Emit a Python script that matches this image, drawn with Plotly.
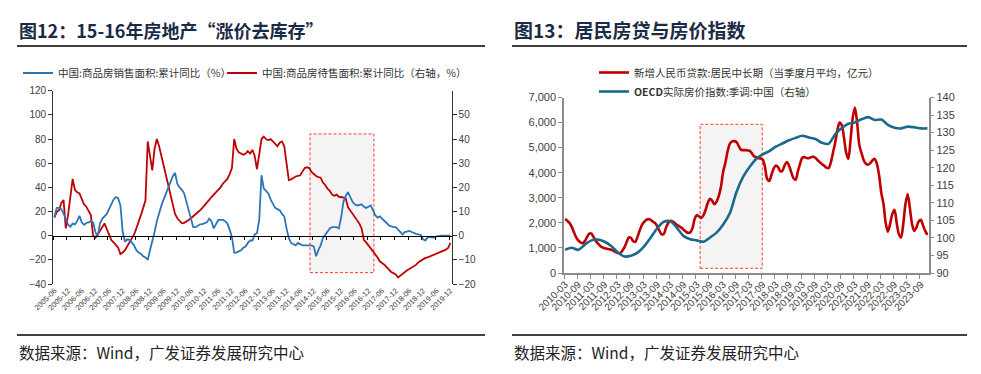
import pandas as pd
import plotly.graph_objects as go

# ---------------- data: left chart (monthly, 2005-06 .. 2019-12) ----------------
months_left = pd.date_range("2005-06-01", "2019-12-01", freq="MS").strftime("%Y-%m").tolist()

sales_area_yoy = [
    15.7, 23, 23, 22, 18.5, 13, 9,                                   # 2005 Jun-Dec
    7.5, 10, 9.4, 12, 16.5, 11, 9, 10.5, 11, 12, 11, 3,              # 2006
    -1, 10, 14, 16.5, 18, 22, 26, 30, 32, 31, 25, 3,                 # 2007
    -5, -3, -3.5, -6, -8, -12, -14, -15, -17, -18, -20, -12,         # 2008
    -5, 3, 12, 19, 25, 30, 35, 39, 45, 49, 52, 43,                   # 2009
    40, 38, 35, 28, 19, 12, 7, 7, 8, 9.4, 9.5, 10,                   # 2010
    11, 14, 12, 6, 10, 13, 13, 13, 12, 10, 5, -1,                    # 2011
    -14, -14, -13, -12, -10, -9, -6, -4, -4, 1, 2, 13,               # 2012
    50, 39, 37, 35, 30, 26, 23, 22, 21, 18, 16, 6,                   # 2013
    -2, -6, -7, -8, -6, -7, -8, -8, -8, -8, -8, -9,                  # 2014
    -17, -12, -8, -2, 1, 4, 6, 7, 7, 7, 6, 15,                       # 2015
    28, 33, 36, 32, 28, 26, 25, 25.5, 26, 24, 23, 24,                # 2016
    25, 21, 17, 15, 16, 14, 12.5, 10.5, 8.5, 7.5, 7, 7,              # 2017
    5, 3, 1, 3, 3.5, 4, 3, 2, 1.5, 1, 0.5, -3,                       # 2018
    -4, -1.5, -1, -1.5, -1.5, -0.5, 0, 0, 0, 0, 0, 0,                # 2019
]

inventory_area_yoy = [
    7.5, 9.9, 10.5, 13.5, 14.8, 3, 8.6,                              # 2005 Jun-Dec
    16, 23.5, 19, 18, 17.5, 15, 13, 12, 10.5, 8.5, 0, -0.8,          # 2006
    0.5, 1.8, 3.5, 5.1, 3, 0.5, -1.8, -2.8, -4, -5, -7.6, -7,        # 2007
    -6, -4.5, -3, -1.5, 0.5, 3, 5.5, 8.5, 11.5, 14.5, 39, 32,        # 2008
    27, 36, 40, 37, 33, 29, 24.5, 21, 16.5, 12.5, 9, 7.2,            # 2009
    6, 5.1, 5.3, 5.8, 6.5, 7.2, 8, 8.6, 9.5, 10.5, 11.5, 12.5,       # 2010
    13.5, 14.8, 16, 17, 18, 19, 20, 21.5, 22.5, 23.5, 25.5, 28,      # 2011
    40, 36, 34.5, 34, 33.5, 34, 35, 34, 35.5, 33, 27.5, 33.5,        # 2012
    40, 41, 40, 39.5, 40, 39, 38, 37, 38.5, 39, 37, 31,              # 2013
    23, 23.3, 24, 24.5, 24.7, 25, 26.5, 28, 28.3, 28, 26.4, 25.5,    # 2014
    24.7, 24.2, 24, 22, 21, 19.5, 18.6, 17, 16.5, 17, 16.1, 16,      # 2015
    15.8, 15.5, 11.8, 10.5, 9.1, 7.5, 6.4, 5, 3, -1.8, -2.8, -4,     # 2016
    -5.6, -6.5, -7.9, -9, -10.6, -11.2, -12, -13, -14, -15, -15.5, -16,   # 2017
    -17.3, -16.5, -15.6, -14.8, -14.3, -13.8, -13.2, -12.5, -12, -11, -10.3, -9.8,  # 2018
    -9.2, -9, -8.6, -8.3, -8, -7.5, -7, -6.6, -6.2, -5.8, -5.1, -3,  # 2019
]

# ---------------- data: right chart (monthly, 2010-03 .. 2023-12) ----------------
months_right = pd.date_range("2010-03-01", "2023-12-01", freq="MS").strftime("%Y-%m").tolist()

household_mlt_loans = [
    2150, 2080, 2000, 1850, 1630, 1430, 1300, 1220, 1190, 1270,
    1440, 1570, 1570, 1430, 1280, 1170, 1080, 1020, 990, 970,
    950, 930, 890, 830, 800, 790, 880, 1020, 1230, 1420,
    1400, 1270, 1240, 1450, 1700, 1920, 2040, 2120, 2150, 2120,
    2050, 1990, 1850, 1680, 1540, 1560, 1820, 2000, 2080, 2060,
    1990, 1920, 1860, 1810, 1720, 1650, 1600, 1620, 1780, 2150,
    2300, 2260, 2200, 2300, 2520, 2800, 2960, 2880, 2740, 2850,
    3080, 3450, 4050, 4400, 4850, 5150, 5250, 5260, 5230, 5080,
    4920, 4900, 4900, 4890, 4880, 4780, 4660, 4620, 4590, 4570,
    4520, 4250, 3750, 3670, 3920, 4170, 4290, 4220, 4060, 4080,
    4300, 4430, 4280, 4020, 3780, 3720, 4050, 4350, 4600, 4620,
    4590, 4580, 4620, 4640, 4600, 4500, 4420, 4340, 4280, 4200,
    4180, 4400, 4800, 5200, 5700, 6000, 5900, 5400, 4800, 4550,
    5300, 6200, 6600, 6000, 5100, 4780, 4500, 4360, 4320, 4380,
    4500, 4550, 4350, 3900, 3200, 2750, 2000, 1650, 1950, 2350,
    2520, 2000, 1550, 1420, 1950, 2750, 3150, 2600, 1950, 1680,
    1820, 2050, 2120, 1900, 1680, 1520,
]

oecd_quarters = months_right[::3]
oecd_real_house_price = [
    96.6, 97.2, 96.6, 98.1, 99.3, 99.5, 98.9, 97.7, 95.9, 94.7,
    94.9, 95.8, 97.6, 100.1, 102.8, 104.6, 104.7, 102.8, 100.5, 99.6,
    99.3, 98.9, 100.1, 101.5, 103.8, 107.0, 113.0, 117.3, 120.2, 122.5,
    123.8, 124.7, 126.0, 126.9, 127.8, 128.5, 129.1, 128.6, 128.2, 127.1,
    126.8, 129.5, 131.3, 132.5, 132.9, 133.8, 134.4, 133.6, 133.7, 132.2,
    131.4, 131.2, 131.7, 131.5, 131.2, 131.2,
]

assert len(sales_area_yoy) == len(months_left) == len(inventory_area_yoy)
assert len(household_mlt_loans) == len(months_right)
assert len(oecd_real_house_price) == len(oecd_quarters)

# highlighted periods (axis units: category index / left-axis value)
HL_LEFT_X, HL_LEFT_Y = (112.3, 140.4), (-30.6, 84.2)
HL_RIGHT_X, HL_RIGHT_Y = (61.5, 89.8), (187, 5930)

# ---------------- styling ----------------
PAGE_OFFSET = 8            # default body margin of the html page
W, H = 981 - PAGE_OFFSET, 374 - PAGE_OFFSET
BLUE = "#2E75B6"
RED = "#C00000"
TEAL = "#1B6A8E"
NAVY = "#1C2B45"
ARIAL = "Liberation Sans, Arial, sans-serif"
TICK_FONT = dict(family=ARIAL, size=10, color="#404040")
CJK = "Noto Sans CJK SC"


def px(x):
    """screen x (px) -> paper fraction"""
    return (x - PAGE_OFFSET) / W


def py(y):
    """screen y (px) -> paper fraction"""
    return 1 - (y - PAGE_OFFSET) / H


L_DOM_X = [px(53.3), px(451.5)]
L_DOM_Y = [py(284), py(90.7)]
R_DOM_X = [px(564), px(928.5)]
R_DOM_Y = [py(273), py(97.5)]
zero_pos = L_DOM_Y[0] + 0.25 * (L_DOM_Y[1] - L_DOM_Y[0])

fig = go.Figure()
fig.add_trace(go.Scatter(
    x=months_left, y=inventory_area_yoy, name="中国:商品房待售面积:累计同比（右轴，%）",
    mode="lines", line=dict(color=RED, width=1.8), xaxis="x", yaxis="y2", legend="legend2"))
fig.add_trace(go.Scatter(
    x=months_left, y=sales_area_yoy, name="中国:商品房销售面积:累计同比（%）",
    mode="lines", line=dict(color=BLUE, width=1.8), xaxis="x2", yaxis="y", legend="legend"))
fig.add_trace(go.Scatter(
    x=months_right, y=household_mlt_loans, name="新增人民币贷款:居民中长期（当季度月平均，亿元）",
    mode="lines", line=dict(color=RED, width=2.6, shape="spline", smoothing=0.8),
    xaxis="x3", yaxis="y3", legend="legend3"))
fig.add_trace(go.Scatter(
    x=oecd_quarters, y=oecd_real_house_price, name="<b>OECD</b>实际房价指数:季调:中国（右轴）",
    mode="lines", line=dict(color=TEAL, width=2.6, shape="spline", smoothing=0.8),
    xaxis="x3", yaxis="y4", legend="legend3"))

left_range = [-0.5, len(months_left) - 0.5]
right_range = [-0.5, len(months_right) - 0.5]
legend_font = dict(family=CJK, size=10.5, color="#333")

fig.update_layout(
    width=W, height=H, margin=dict(l=0, r=0, t=0, b=0),
    paper_bgcolor="white", plot_bgcolor="rgba(0,0,0,0)", template="none",
    showlegend=True,
    # ---- left panel
    xaxis=dict(domain=L_DOM_X, anchor="y", type="category", range=left_range,
               categoryorder="array", categoryarray=months_left,
               tickmode="linear", tick0=0, dtick=6, tickangle=-45, ticks="",
               showline=False, showgrid=False, zeroline=False, automargin=False,
               tickfont=dict(family=ARIAL, size=7.5, color="#404040")),
    xaxis2=dict(overlaying="x", anchor="free", position=zero_pos, type="category",
                categoryorder="array", categoryarray=months_left,
                range=left_range, tickmode="linear", tick0=0, dtick=6, tickson="boundaries",
                ticks="outside", ticklen=3, tickcolor="#000", tickwidth=1,
                showticklabels=False, showline=True, linecolor="#000", linewidth=1.2,
                showgrid=False, zeroline=False, automargin=False),
    yaxis=dict(domain=L_DOM_Y, anchor="x", range=[-40, 120], dtick=20,
               ticks="outside", ticklen=4, tickcolor="#333", showline=True, linecolor="#333",
               linewidth=1.2, showgrid=False, zeroline=False, tickfont=TICK_FONT, automargin=False),
    yaxis2=dict(overlaying="y", anchor="x", side="right", range=[-20, 60],
                tickvals=[-20, -10, 0, 10, 20, 30, 40, 50],
                ticks="outside", ticklen=4, tickcolor="#333", showline=True, linecolor="#333",
                linewidth=1.2, showgrid=False, zeroline=False, tickfont=TICK_FONT, automargin=False),
    # ---- right panel
    xaxis3=dict(domain=R_DOM_X, anchor="y3", type="category", range=right_range,
                categoryorder="array", categoryarray=months_right,
                tickmode="linear", tick0=0, dtick=6, tickson="boundaries", tickangle=-45,
                ticks="outside", ticklen=4, tickcolor="#8C8C8C", showline=True,
                linecolor="#8C8C8C", linewidth=1.5, showgrid=False, zeroline=False,
                automargin=False,
                tickfont=dict(family=ARIAL, size=10, color="#404040")),
    yaxis3=dict(domain=R_DOM_Y, anchor="x3", range=[0, 7000], dtick=1000, tickformat=",",
                ticks="outside", ticklen=4, tickcolor="#8C8C8C", showline=True,
                linecolor="#8C8C8C", linewidth=1.5, showgrid=False, zeroline=False,
                automargin=False,
                tickfont=dict(family=ARIAL, size=11, color="#404040")),
    yaxis4=dict(overlaying="y3", anchor="x3", side="right", range=[90, 140], dtick=5,
                ticks="outside", ticklen=4, tickcolor="#8C8C8C", showline=True,
                linecolor="#8C8C8C", linewidth=1.5, showgrid=False, zeroline=False,
                automargin=False,
                tickfont=dict(family=ARIAL, size=11, color="#404040")),
    legend=dict(x=px(18), y=py(73), xanchor="left", yanchor="middle", bgcolor="rgba(0,0,0,0)",
                font=legend_font),
    legend2=dict(x=px(222), y=py(73), xanchor="left", yanchor="middle", bgcolor="rgba(0,0,0,0)",
                 font=legend_font),
    legend3=dict(x=px(594), y=py(82), xanchor="left", yanchor="middle", bgcolor="rgba(0,0,0,0)",
                 font=legend_font, tracegroupgap=0),
)

# highlight rectangles
fig.add_shape(type="rect", xref="x", yref="y", x0=HL_LEFT_X[0], x1=HL_LEFT_X[1],
              y0=HL_LEFT_Y[0], y1=HL_LEFT_Y[1], layer="below",
              fillcolor="#F4F4F4", line=dict(color="#FF3B3B", width=1, dash="3px,2px"))
fig.add_shape(type="rect", xref="x3", yref="y3", x0=HL_RIGHT_X[0], x1=HL_RIGHT_X[1],
              y0=HL_RIGHT_Y[0], y1=HL_RIGHT_Y[1], layer="below",
              fillcolor="#F4F4F4", line=dict(color="#FF3B3B", width=1, dash="3px,2px"))

# titles, rules and sources
for x0, x1, title, tsize in [(17, 485, "图12：15-16年房地产“涨价去库存”", 18),
                             (512, 967, "图13：居民房贷与房价指数", 19)]:
    fig.add_annotation(xref="paper", yref="paper", x=px(x0), y=py(30), xanchor="left",
                       yanchor="middle", showarrow=False, text="<b>" + title + "</b>",
                       font=dict(family=CJK, size=tsize, color=NAVY))
    fig.add_annotation(xref="paper", yref="paper", x=px(x0), y=py(352), xanchor="left",
                       yanchor="middle", showarrow=False,
                       text="数据来源：Wind，广发证券发展研究中心",
                       font=dict(family=CJK, size=15.5, color="#222"))
    for yy in (46, 335):
        fig.add_shape(type="line", xref="paper", yref="paper", x0=px(x0), x1=px(x1),
                      y0=py(yy), y1=py(yy), line=dict(color="#000", width=1.5))

fig.write_html("out.html")
